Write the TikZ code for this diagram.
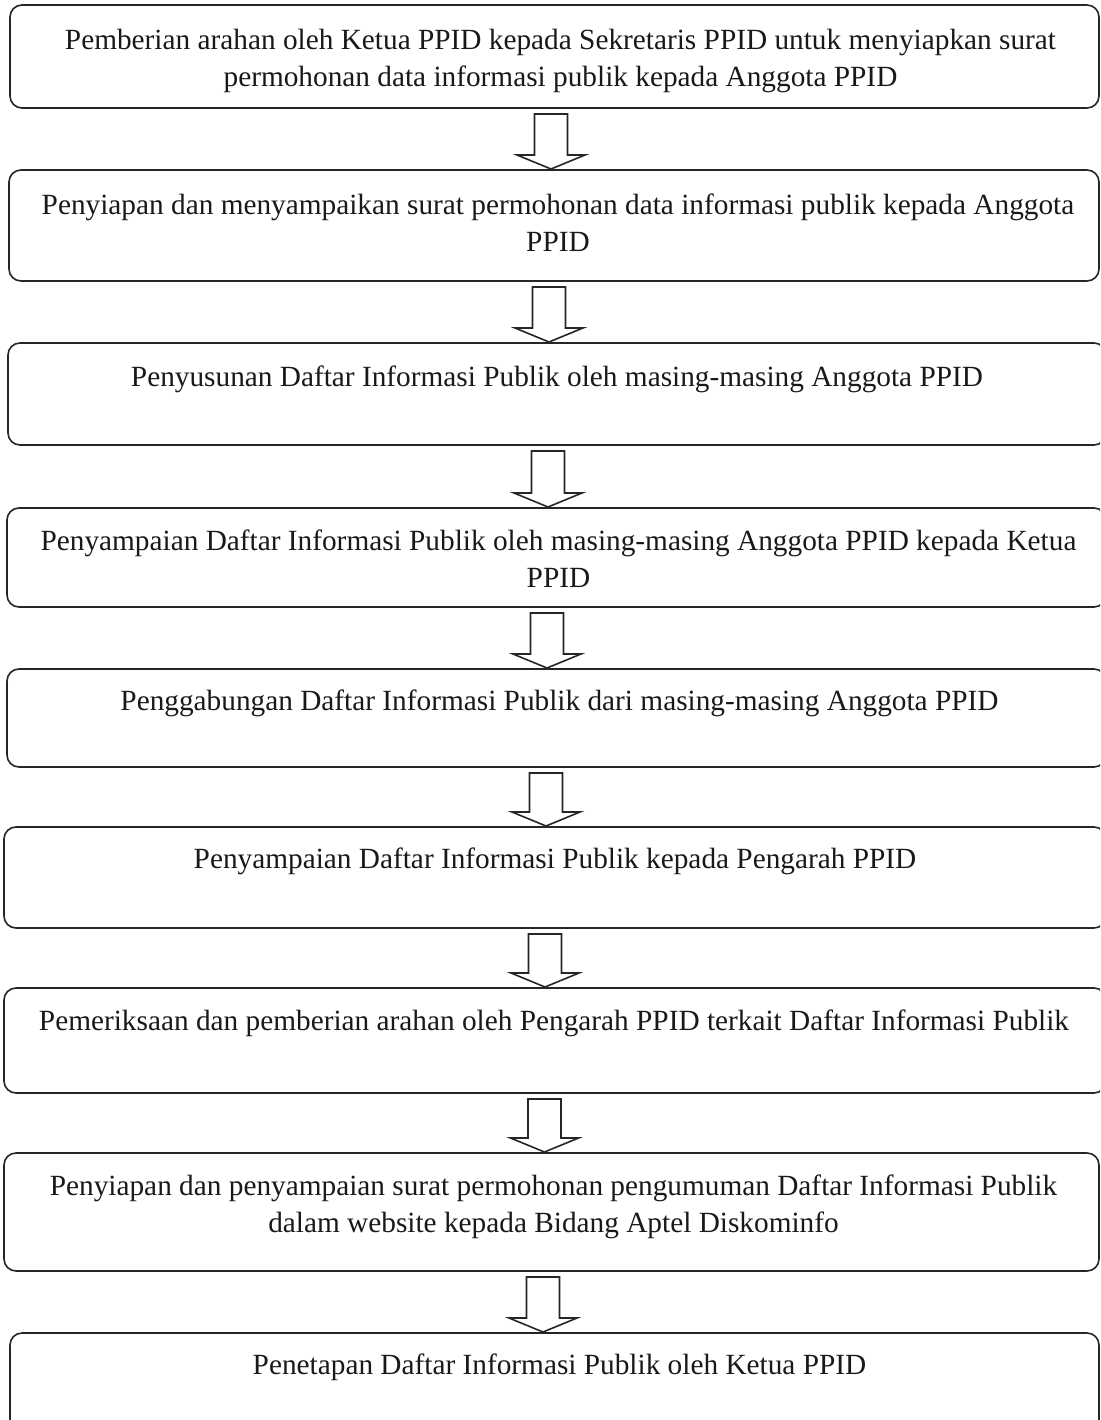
\documentclass[tikz,border=0pt]{standalone}
\usepackage{fontspec}
\setmainfont{Liberation Serif}
\usetikzlibrary{calc}
\tikzset{
  stepbox/.style={draw=black!85, line width=1.6pt, rounded corners=12pt, inner sep=0pt, outer sep=0pt},
  steptext/.style={anchor=north, inner sep=0pt, align=center, font=\fontsize{29.3}{37.5}\selectfont, text=black!90},
  blockarrow/.style={draw=black!85, line width=1.6pt, fill=white, line join=miter}
}
% #1 from node, #2 to node, #3 x centre (pt)
\newcommand{\flowarrow}[3]{%
  \draw[blockarrow] let \p1=(#1.south), \p2=(#2.north) in
    ({#3pt-16.5pt},{\y1-6pt}) -- ({#3pt+16.5pt},{\y1-6pt}) --
    ({#3pt+16.5pt},{\y2+15pt}) -- ({#3pt+34pt},{\y2+15pt}) --
    ({#3pt},{\y2+1pt}) -- ({#3pt-34pt},{\y2+15pt}) --
    ({#3pt-16.5pt},{\y2+15pt}) -- cycle;}
\begin{document}
\begin{tikzpicture}[x=1pt,y=-1pt]
\useasboundingbox (0,0) rectangle (1100,1420);
\clip (0,0) rectangle (1100,1420);
\fill[white] (0,0) rectangle (1100,1420);

\node[stepbox, minimum width=1089pt, minimum height=103pt] (b1) at (554.5,56.5) {};
\node[stepbox, minimum width=1090pt, minimum height=111pt] (b2) at (554,225.5) {};
\node[stepbox, minimum width=1098pt, minimum height=102pt] (b3) at (557,394) {};
\node[stepbox, minimum width=1099pt, minimum height=99pt] (b4) at (556.5,557.5) {};
\node[stepbox, minimum width=1099pt, minimum height=98pt] (b5) at (556.5,718) {};
\node[stepbox, minimum width=1102pt, minimum height=101pt] (b6) at (555,877.5) {};
\node[stepbox, minimum width=1102pt, minimum height=105pt] (b7) at (555,1040.5) {};
\node[stepbox, minimum width=1095pt, minimum height=118pt] (b8) at (551.5,1212) {};
\node[stepbox, minimum width=1089pt, minimum height=107pt] (b9) at (554.5,1386.5) {};

\node[steptext] (t1) at ($(b1.north)+(6,23.5)$) {Pemberian arahan oleh Ketua PPID kepada Sekretaris PPID untuk menyiapkan surat\\permohonan data informasi publik kepada Anggota PPID};
\node[steptext] (t2) at ($(b2.north)+(4,23.5)$) {Penyiapan dan menyampaikan surat permohonan data informasi publik kepada Anggota\\PPID};
\node[steptext] (t3) at ($(b3.north)+(0,22.5)$) {Penyusunan Daftar Informasi Publik oleh masing-masing Anggota PPID};
\node[steptext] (t4) at ($(b4.north)+(2,21.5)$) {Penyampaian Daftar Informasi Publik oleh masing-masing Anggota PPID kepada Ketua\\PPID};
\node[steptext] (t5) at ($(b5.north)+(3,20.5)$) {Penggabungan Daftar Informasi Publik dari masing-masing Anggota PPID};
\node[steptext] (t6) at ($(b6.north)+(0,20.5)$) {Penyampaian Daftar Informasi Publik kepada Pengarah PPID};
\node[steptext] (t7) at ($(b7.north)+(-1,21.5)$) {Pemeriksaan dan pemberian arahan oleh Pengarah PPID terkait Daftar Informasi Publik};
\node[steptext] (t8) at ($(b8.north)+(2,21.5)$) {Penyiapan dan penyampaian surat permohonan pengumuman Daftar Informasi Publik\\dalam website kepada Bidang Aptel Diskominfo};
\node[steptext] (t9) at ($(b9.north)+(5,20.5)$) {Penetapan Daftar Informasi Publik oleh Ketua PPID};

\flowarrow{b1}{b2}{551}
\flowarrow{b2}{b3}{549}
\flowarrow{b3}{b4}{548}
\flowarrow{b4}{b5}{547}
\flowarrow{b5}{b6}{546}
\flowarrow{b6}{b7}{545}
\flowarrow{b7}{b8}{544.5}
\flowarrow{b8}{b9}{543}
\end{tikzpicture}
\end{document}
